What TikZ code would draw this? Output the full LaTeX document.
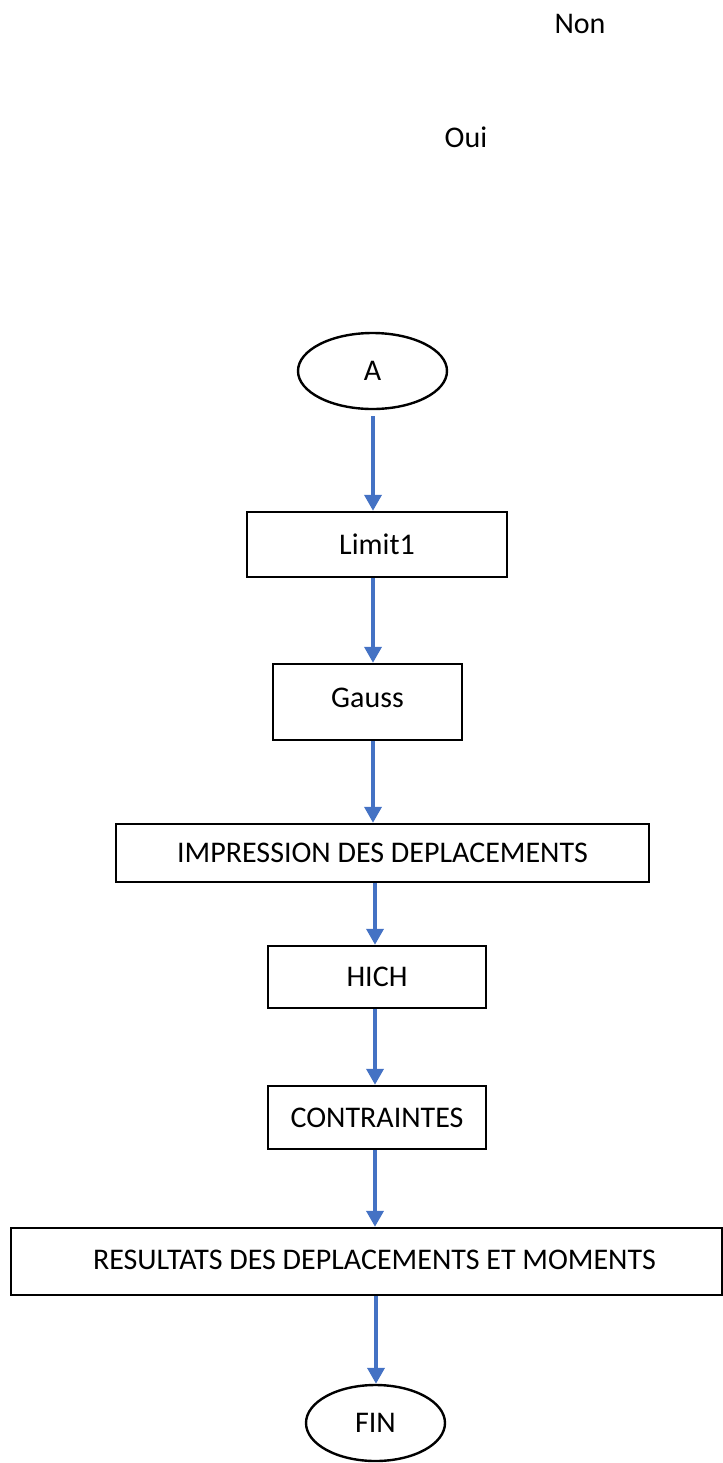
\documentclass[tikz,border=0pt]{standalone}
\usepackage{fontspec}
\setmainfont{Carlito}
\usetikzlibrary{shapes.geometric,arrows.meta}
\definecolor{arrowblue}{RGB}{68,114,196}
\begin{document}
\begin{tikzpicture}[x=0.5pt,y=-0.5pt,
  every node/.style={font=\fontsize{15}{18}\selectfont},
  box/.style={draw=black,line width=1.2pt,rectangle,inner sep=0pt},
  term/.style={draw=black,line width=1.2pt,ellipse,inner sep=0pt},
  arr/.style={draw=arrowblue,line width=1.8pt,-{Triangle[length=8pt,width=8.5pt]}},
  lbl/.style={inner sep=0pt}]
\useasboundingbox (0,0) rectangle (723,1463);
\node[lbl] (non) at (580,24) {Non};
\node[lbl] (oui) at (466,137) {Oui};
\node[term,minimum width=74.5pt,minimum height=38pt] (A) at (372.5,371) {A};
\node[box,minimum width=130pt,minimum height=32.5pt] (L) at (377,544.5) {Limit1};
\node[box,minimum width=94.5pt,minimum height=38pt] (G) at (367.5,702) {\raisebox{4pt}{Gauss}};
\node[box,minimum width=266.5pt,minimum height=29pt] (I) at (382.5,853) {IMPRESSION DES DEPLACEMENTS};
\node[box,minimum width=109pt,minimum height=31pt] (H) at (377,977) {HICH};
\node[box,minimum width=109pt,minimum height=31.5pt] (C) at (377,1117.5) {CONTRAINTES};
\node[box,minimum width=355.5pt,minimum height=33.5pt] (R) at (366.5,1261.5) {\hspace*{8pt}\raisebox{1.5pt}{RESULTATS DES DEPLACEMENTS ET MOMENTS}};
\node[term,minimum width=69.5pt,minimum height=38pt] (F) at (375.5,1423) {\raisebox{-2pt}{FIN}};
\coordinate (xa) at (373,0);
\coordinate (xb) at (375,0);
\coordinate (xc) at (376,0);
\draw[arr,shorten <=3pt] (A.south -| xa) -- (L.north -| xa);
\draw[arr] (L.south -| xa) -- (G.north -| xa);
\draw[arr] (G.south -| xa) -- (I.north -| xa);
\draw[arr] (I.south -| xb) -- (H.north -| xb);
\draw[arr] (H.south -| xb) -- (C.north -| xb);
\draw[arr] (C.south -| xb) -- (R.north -| xb);
\draw[arr] (R.south -| xc) -- (F.north -| xc);
\end{tikzpicture}
\end{document}
